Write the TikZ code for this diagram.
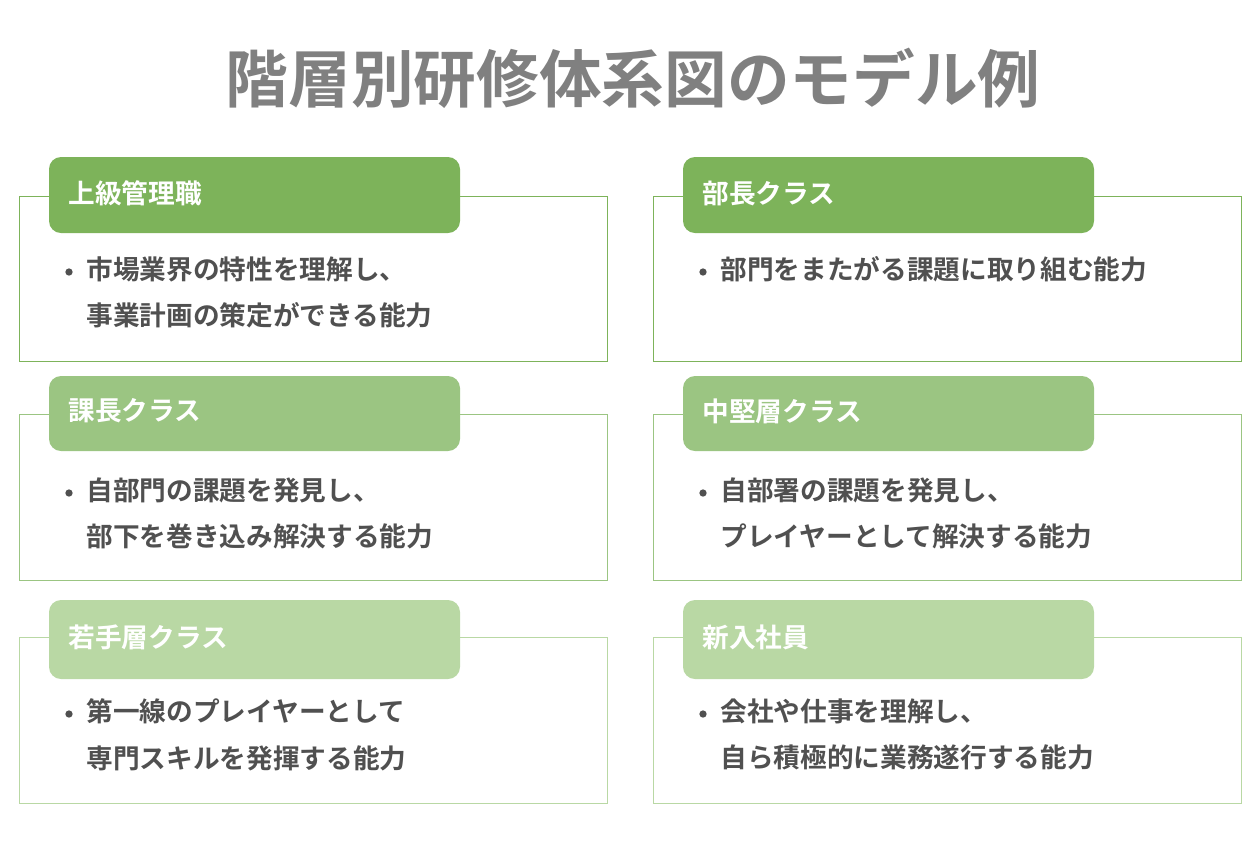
\documentclass[tikz,border=0pt]{standalone}
\usepackage{fontspec}
\newfontfamily\jpbold{Noto Sans CJK JP Bold}
\definecolor{titlegray}{RGB}{128,128,128}
\definecolor{bodygray}{RGB}{80,80,80}
\definecolor{greenA}{RGB}{125,179,90}
\definecolor{greenB}{RGB}{155,197,130}
\definecolor{greenC}{RGB}{185,216,164}

\tikzset{every picture/.style={line width=0.75pt}}
\tikzset{
  panel/.style={draw=#1, line width=0.75pt},
  header/.style={fill=#1, draw=none, rounded corners=9pt},
  headtext/.style={anchor=west, inner sep=0.75pt, text=white, font=\jpbold\fontsize{20}{24}\selectfont},
  bodytext/.style={anchor=north west, inner sep=0.75pt, align=left, text=bodygray, font=\jpbold\fontsize{20}{35}\selectfont},
  bullet/.style={circle, fill=bodygray, inner sep=0pt, minimum size=5.5pt}
}

\begin{document}
\begin{tikzpicture}[x=0.75pt,y=0.75pt,yscale=-1,xscale=1]
\useasboundingbox (0,0) rectangle (1260,840);

% Title
\node (title) at (633,78) [inner sep=0pt, text=titlegray, font=\jpbold\fontsize{47}{50}\selectfont] {階層別研修体系図のモデル例};

%Row 1 left
\draw [panel=greenA] (19,196) rectangle (607,361);
\draw [header=greenA] (49,157) rectangle (460,233);
\node (h1) at (67,193) [headtext] {上級管理職};
\node (b1) at (69,272) [bullet] {};
\node (t1) at (85,255) [bodytext] {市場業界の特性を理解し、\\事業計画の策定ができる能力};

%Row 1 right
\draw [panel=greenA] (653,196) rectangle (1241,361);
\draw [header=greenA] (683,157) rectangle (1094,233);
\node (h2) at (701,193) [headtext] {部長クラス};
\node (b2) at (703,272) [bullet] {};
\node (t2) at (719,255) [bodytext] {部門をまたがる課題に取り組む能力};

%Row 2 left
\draw [panel=greenB] (19,414) rectangle (607,580);
\draw [header=greenB] (49,376) rectangle (460,451);
\node (h3) at (67,411) [headtext] {課長クラス};
\node (b3) at (69,493) [bullet] {};
\node (t3) at (85,476) [bodytext] {自部門の課題を発見し、\\部下を巻き込み解決する能力};

%Row 2 right
\draw [panel=greenB] (653,414) rectangle (1241,580);
\draw [header=greenB] (683,376) rectangle (1094,451);
\node (h4) at (701,411) [headtext] {中堅層クラス};
\node (b4) at (703,493) [bullet] {};
\node (t4) at (719,476) [bodytext] {自部署の課題を発見し、\\プレイヤーとして解決する能力};

%Row 3 left
\draw [panel=greenC] (19,637) rectangle (607,803);
\draw [header=greenC] (49,600) rectangle (460,679);
\node (h5) at (67,637) [headtext] {若手層クラス};
\node (b5) at (69,714) [bullet] {};
\node (t5) at (85,697) [bodytext] {第一線のプレイヤーとして\\専門スキルを発揮する能力};

%Row 3 right
\draw [panel=greenC] (653,637) rectangle (1241,803);
\draw [header=greenC] (683,600) rectangle (1094,679);
\node (h6) at (701,637) [headtext] {新入社員};
\node (b6) at (703,714) [bullet] {};
\node (t6) at (719,697) [bodytext] {会社や仕事を理解し、\\自ら積極的に業務遂行する能力};

\end{tikzpicture}
\end{document}
